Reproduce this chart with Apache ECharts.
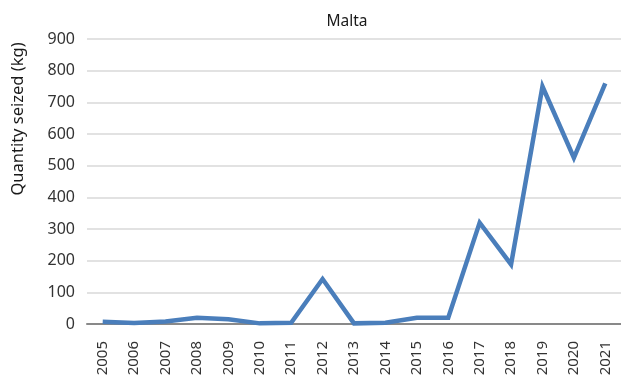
<!DOCTYPE html>
<html><head><meta charset="utf-8">
<script src="https://cdn.jsdelivr.net/npm/echarts@6/dist/echarts.min.js"></script>
<style>html,body{margin:0;padding:0;background:#fff}#c{width:621px;height:380px}</style>
</head><body><div id="c"></div>
<script>
const years = ['2005','2006','2007','2008','2009','2010','2011','2012','2013','2014','2015','2016','2017','2018','2019','2020','2021'];
const seized = [7, 3, 8, 20, 15, 2, 4, 142, 2, 4, 20, 20, 320, 188, 750, 525, 760];
const yTicks = [0, 100, 200, 300, 400, 500, 600, 700, 800, 900];
const yName = 'Quantity seized (kg)';
const font = 'Noto Sans';
const chart = echarts.init(document.getElementById('c'));
chart.setOption({
  animation: false,
  title: { text: 'Malta', left: 342, top: 9, textAlign: 'center',
    textStyle: { fontFamily: font, fontSize: 15.5, fontWeight: 'normal', color: '#1a1a1a' } },
  graphic: [{ type: 'text', x: 18, y: 119, rotation: Math.PI / 2,
    style: { text: yName, fontFamily: font, fontSize: 16.5, fill: '#1a1a1a', align: 'center', verticalAlign: 'middle' } }],
  grid: { left: 87, right: 0, top: 39, bottom: 56 },
  xAxis: { type: 'category', data: years, boundaryGap: true,
    axisLine: { lineStyle: { color: '#898989', width: 2 } },
    axisTick: { show: false },
    axisLabel: { rotate: 90, fontFamily: font, fontSize: 15, color: '#333', margin: 17, interval: 0 } },
  yAxis: { type: 'value', min: yTicks[0], max: yTicks[yTicks.length-1], interval: 100,
    axisLine: { show: false }, axisTick: { show: false },
    axisLabel: { fontFamily: font, fontSize: 16, color: '#333', margin: 12 },
    splitLine: { lineStyle: { color: '#d9d9d9', width: 1.5 } } },
  series: [{ type: 'line', data: seized, symbol: 'none',
    lineStyle: { color: '#4a7ebb', width: 4.5, join: 'miter' } }]
});
</script></body></html>
